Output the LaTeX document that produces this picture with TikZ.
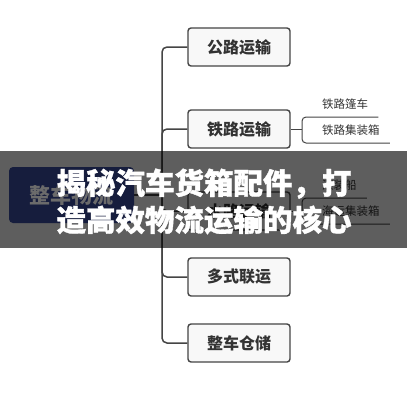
\documentclass[tikz,border=0pt]{standalone}
\usepackage{fontspec}
\newfontfamily\cjk{Noto Sans CJK SC}
\newfontfamily\cjkheavy{Noto Sans CJK SC}[BoldFeatures={FakeBold=1.2}]
\usetikzlibrary{calc}
\definecolor{boxfill}{HTML}{F8F8F8}
\definecolor{boxline}{HTML}{454545}
\definecolor{txt}{HTML}{333333}
\definecolor{rootfill}{HTML}{161D3D}
\definecolor{roottxt}{HTML}{6B6B6B}
\pgfdeclarelayer{bannerlayer}
\pgfdeclarelayer{toplayer}
\pgfsetlayers{main,bannerlayer,toplayer}
\begin{document}
\begin{tikzpicture}[x=1pt,y=-1pt,
  branch/.style={draw=boxline, line width=1.4pt, fill=boxfill, rounded corners=3pt,
    minimum width=102pt, minimum height=38pt, inner sep=0pt,
    font=\cjk\bfseries\fontsize{16}{18}\selectfont, text=txt},
  leaf/.style={anchor=south west, inner xsep=10pt, inner ysep=8pt, text depth=0pt,
    font=\cjk\fontsize{11.5}{13}\selectfont, text=txt},
  rootbox/.style={fill=rootfill, rounded corners=4pt, minimum width=125pt,
    minimum height=56pt, inner sep=0pt,
    font=\cjk\bfseries\fontsize{21}{24}\selectfont, text=roottxt},
  conn/.style={draw=boxline, line width=1.5pt, rounded corners=5pt},
  leafline/.style={draw=boxline, line width=1pt, rounded corners=4pt},
  titletext/.style={font=\cjkheavy\bfseries\fontsize{29.5}{37}\selectfont, text=white, align=center, inner sep=0pt}
]
\useasboundingbox (0,0) rectangle (407,400);
\fill[white] (0,0) rectangle (407,400);

% root (drawn above the banner, with its visible colours)
\begin{pgfonlayer}{toplayer}
\node[rootbox] (root) at (71.5,195) {整车物流};
\end{pgfonlayer}

% branches
\node[branch] (b1) at (239,47) {公路运输};
\node[branch] (b2) at (239,129) {铁路运输};
\node[branch] (b3) at (239,211) {水路运输};
\node[branch] (b4) at (239,277) {多式联运};
\node[branch] (b5) at (239,343) {整车仓储};

% trunk
\coordinate (j) at (162,195);
\draw[conn] (root.east) -- (j);
\foreach \b in {b1,b2,b3,b4,b5}{
  \draw[conn] (j) |- (\b.west);
}

% leaves of 铁路运输
\coordinate (k2) at (302,129);
\node[leaf] (l21) at (312,117) {铁路篷车};
\node[leaf] (l22) at (312,143) {铁路集装箱};
\draw[leafline] (b2.east) -- (k2);
\draw[leafline] (l21.south east) -- (l21.south east -| k2) -- (l22.south east -| k2) -- (l22.south east);

% leaves of 水路运输
\coordinate (k3) at (302,211);
\node[leaf] (l31) at (312,198) {滚装船};
\node[leaf] (l32) at (312,224) {海运集装箱};
\draw[leafline] (b3.east) -- (k3);
\draw[leafline] (l31.south east) -- (l31.south east -| k3) -- (l32.south east -| k3) -- (l32.south east);

% banner
\begin{pgfonlayer}{bannerlayer}
\fill[black, opacity=0.63] (0,151) rectangle (407,248);
\end{pgfonlayer}
\begin{pgfonlayer}{toplayer}
\node[titletext] (title) at (204,201.5) {揭秘汽车货箱配件，打\\造高效物流运输的核心};
\end{pgfonlayer}
\end{tikzpicture}
\end{document}
